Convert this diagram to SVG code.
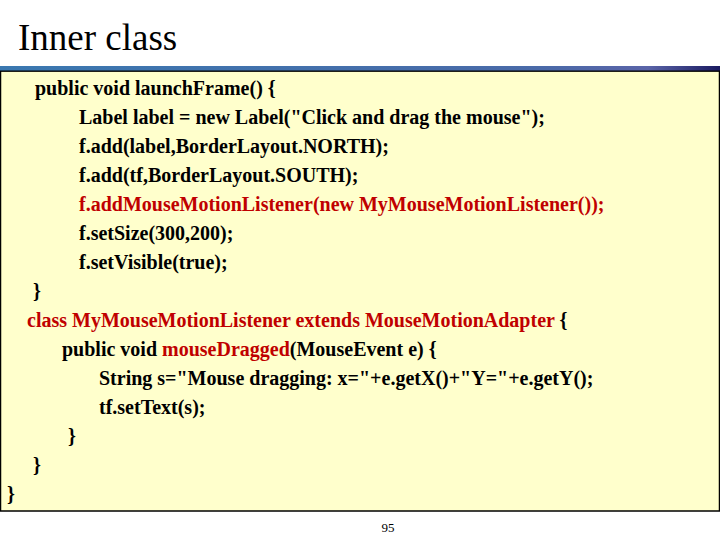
<svg xmlns="http://www.w3.org/2000/svg" width="720" height="540" viewBox="0 0 720 540">
<defs>
<linearGradient id="bar" x1="0" y1="0" x2="1" y2="0">
<stop offset="0" stop-color="#3a78b0"/>
<stop offset="0.75" stop-color="#4a6aa8"/>
<stop offset="0.9" stop-color="#5a64a8"/>
<stop offset="1" stop-color="#1a1a60"/>
</linearGradient>
<style>
.c{font-family:"Liberation Serif",serif;font-weight:bold;font-size:20px;fill:#000}
.r{fill:#c00000}
</style>
</defs>
<rect width="720" height="540" fill="#fff"/>
<text x="18" y="50" font-family="Liberation Serif, serif" font-size="37">Inner class</text>
<rect x="0.5" y="71" width="719" height="440" fill="#ffffcc" stroke="#000" stroke-width="1.5"/>
<rect x="0" y="66" width="720" height="5" fill="url(#bar)"/>
<line x1="0" y1="71" x2="720" y2="71" stroke="#000" stroke-width="1"/>
<g id="code">
<text class="c" x="35" y="95">public void launchFrame() {</text>
<text class="c" x="79" y="124">Label label = new Label("Click and drag the mouse");</text>
<text class="c" x="79" y="153">f.add(label,BorderLayout.NORTH);</text>
<text class="c" x="79" y="182">f.add(tf,BorderLayout.SOUTH);</text>
<text class="c r" x="79" y="211">f.addMouseMotionListener(new MyMouseMotionListener());</text>
<text class="c" x="79" y="240">f.setSize(300,200);</text>
<text class="c" x="79" y="269">f.setVisible(true);</text>
<text class="c" x="33" y="298">}</text>
<text class="c" x="27" y="327"><tspan class="r">class MyMouseMotionListener extends MouseMotionAdapter</tspan> {</text>
<text class="c" x="62" y="356">public void <tspan class="r">mouseDragged</tspan>(MouseEvent e) {</text>
<text class="c" x="99" y="385">String s="Mouse dragging: x="+e.getX()+"Y="+e.getY();</text>
<text class="c" x="99" y="414">tf.setText(s);</text>
<text class="c" x="68" y="443">}</text>
<text class="c" x="33" y="472">}</text>
<text class="c" x="7" y="501">}</text>
</g>
<text x="388" y="532" font-family="Liberation Serif, serif" font-size="13" text-anchor="middle">95</text>
</svg>
